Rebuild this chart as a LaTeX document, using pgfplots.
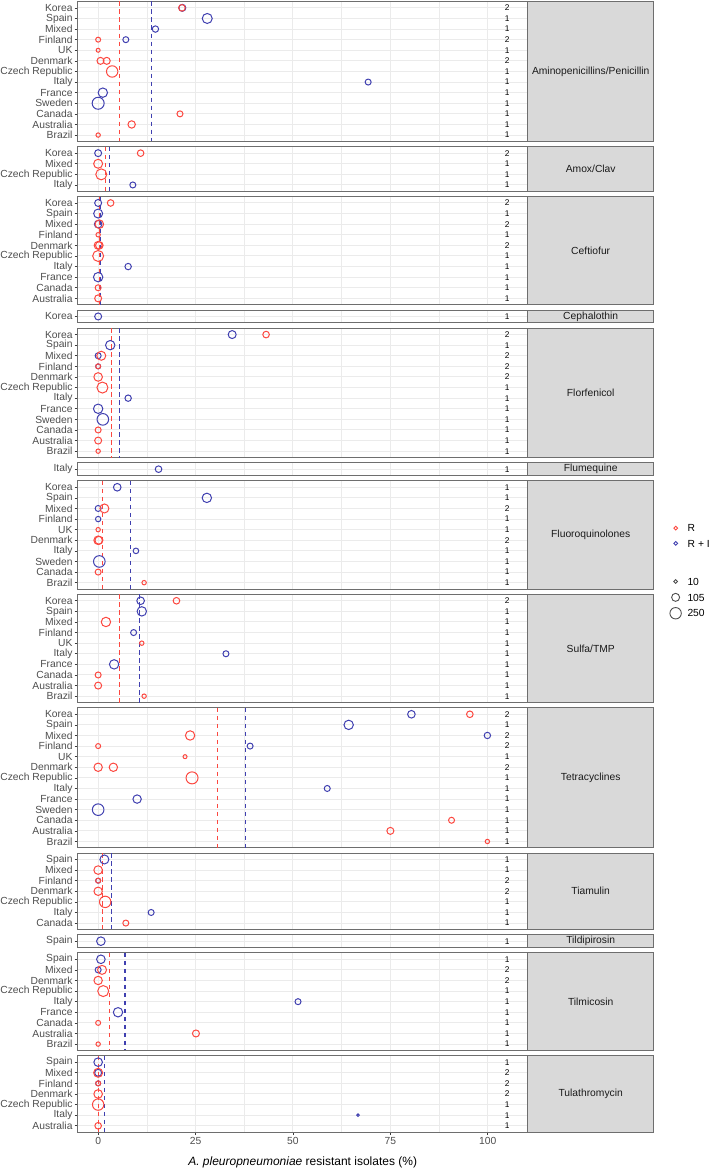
\documentclass[border=0pt]{standalone}
\usepackage{fontspec}
\setmainfont{Liberation Sans}
\usepackage{pgfplots}
\pgfplotsset{compat=1.18}
\definecolor{Rc}{RGB}{252,72,64}
\definecolor{Bc}{RGB}{64,64,176}
\definecolor{gridc}{RGB}{235,235,235}
\definecolor{bordc}{RGB}{110,110,110}
\definecolor{tickc}{RGB}{60,60,60}
\definecolor{labc}{RGB}{77,77,77}
\definecolor{stripc}{RGB}{217,217,217}
\definecolor{stript}{RGB}{26,26,26}
\definecolor{sizec}{RGB}{77,77,77}
\newcommand\axfont{\fontsize{10.3}{12}\selectfont}
\newcommand\cntfont{\fontsize{8.3}{10}\selectfont}
\pgfplotsset{
 panel/.style={anchor=north west, scale only axis, width=450pt,
   xmin=-5.25, xmax=110.25, y dir=reverse, clip=false,
   axis line style={draw=bordc, line width=0.9pt},
   xtick={0,25,50,75,100}, minor xtick={12.5,37.5,62.5,87.5},
   xticklabels={}, grid=both,
   major grid style={draw=gridc, line width=1pt},
   minor grid style={draw=gridc, line width=0.55pt},
   tick align=outside, major tick length=3pt, minor tick length=0pt,
   tick style={draw=tickc, line width=0.7pt},
   xtick style={draw=none},
   tick pos=left,
   yticklabel style={font=\axfont, text=labc, inner sep=0pt, xshift=-2pt},
 },
 rp/.style={scatter, only marks, mark=o, line width=1.0pt, point meta=\thisrow{r},
   scatter/use mapped color={draw=Rc},
   visualization depends on={\thisrow{r}\as\rr},
   scatter/@pre marker code/.append style={/tikz/mark size=\rr pt}},
 bp/.style={scatter, only marks, mark=o, line width=1.0pt, point meta=\thisrow{r},
   scatter/use mapped color={draw=Bc},
   visualization depends on={\thisrow{r}\as\rr},
   scatter/@pre marker code/.append style={/tikz/mark size=\rr pt}},
 rl/.style={color=Rc, solid, line width=1.1pt, dash pattern=on 4.5pt off 3.5pt, mark=none, forget plot},
 bl/.style={color=Bc, solid, line width=1.1pt, dash pattern=on 4.5pt off 3.5pt, mark=none, forget plot},
 cnt/.style={draw=none, mark=none, nodes near coords, point meta=explicit symbolic,
   every node near coord/.append style={anchor=center, font=\cntfont, text=black, inner sep=0pt}},
}
\tikzset{strip/.style={anchor=north west, draw=bordc, line width=0.9pt, fill=stripc,
   minimum width=126pt, inner sep=0pt, outer sep=0pt, font=\axfont, text=stript}}
\begin{document}
\begin{tikzpicture}
\useasboundingbox (0,0) rectangle (709pt,-1169pt);
% ---------- 1 Aminopenicillins/Penicillin
\begin{axis}[panel, name=p1, at={(77.7pt,-1.5pt)}, height=139.92pt, ymin=0.4, ymax=13.6,
  ytick={1,...,13}, yticklabels={Korea,Spain,Mixed,Finland,UK,Denmark,Czech Republic,Italy,France,Sweden,Canada,Australia,Brazil}]
\addplot[bp] table[row sep=\\]{x y r\\ 21.6 1 3.5\\ 28.0 2 5.0\\ 14.7 3 3.2\\ 7.1 4 3.0\\ 69.3 8 3.0\\ 1.2 9 4.7\\ 0 10 6.0\\};
\addplot[rp] table[row sep=\\]{x y r\\ 21.5 1 3.3\\ 0 4 2.5\\ 0 5 2.0\\ 0.6 6 3.5\\ 2.2 6 3.5\\ 3.6 7 5.7\\ 21.0 11 3.0\\ 8.6 12 3.7\\ 0 13 2.2\\};
\addplot[rl] coordinates {(5.4,0.4) (5.4,13.6)};
\addplot[bl] coordinates {(13.7,0.4) (13.7,13.6)};
\addplot[cnt] table[row sep=\\, x expr=105, y=y, meta=c]{y c\\ 1 2\\ 2 1\\ 3 1\\ 4 2\\ 5 1\\ 6 2\\ 7 1\\ 8 1\\ 9 1\\ 10 1\\ 11 1\\ 12 1\\ 13 1\\};
\end{axis}
\node[strip, minimum height=139.92pt] at (p1.north east) {Aminopenicillins/Penicillin};
% ---------- 2 Amox/Clav
\begin{axis}[panel, name=p2, at={(77.7pt,-146.8pt)}, height=44.52pt, ymin=0.4, ymax=4.6,
  ytick={1,...,4}, yticklabels={Korea,Mixed,Czech Republic,Italy}]
\addplot[bp] table[row sep=\\]{x y r\\ 0 1 3.5\\ 8.9 4 3.0\\};
\addplot[rp] table[row sep=\\]{x y r\\ 10.9 1 3.3\\ 0 2 4.5\\ 0.8 3 5.5\\};
\addplot[rl] coordinates {(2.0,0.4) (2.0,4.6)};
\addplot[bl] coordinates {(2.9,0.4) (2.9,4.6)};
\addplot[cnt] table[row sep=\\, x expr=105, y=y, meta=c]{y c\\ 1 2\\ 2 1\\ 3 1\\ 4 1\\};
\end{axis}
\node[strip, minimum height=44.52pt] at (p2.north east) {Amox/Clav};
% ---------- 3 Ceftiofur
\begin{axis}[panel, name=p3, at={(77.7pt,-196.6pt)}, height=108.12pt, ymin=0.4, ymax=10.6,
  ytick={1,...,10}, yticklabels={Korea,Spain,Mixed,Finland,Denmark,Czech Republic,Italy,France,Canada,Australia}]
\addplot[bp] table[row sep=\\]{x y r\\ 0 1 3.5\\ 0 2 4.5\\ 0 3 3.8\\ 7.7 7 3.2\\ 0 8 4.7\\};
\addplot[rp] table[row sep=\\]{x y r\\ 3.2 1 3.3\\ 0.3 3 4.3\\ 0 4 2.2\\ 0 5 4.0\\ 0.3 5 3.8\\ 0 6 5.5\\ 0 9 3.0\\ 0 10 3.5\\};
\addplot[rl] coordinates {(0.3,0.4) (0.3,10.6)};
\addplot[bl] coordinates {(0.6,0.4) (0.6,10.6)};
\addplot[cnt] table[row sep=\\, x expr=105, y=y, meta=c]{y c\\ 1 2\\ 2 1\\ 3 2\\ 4 1\\ 5 2\\ 6 1\\ 7 1\\ 8 1\\ 9 1\\ 10 1\\};
\end{axis}
\node[strip, minimum height=108.12pt] at (p3.north east) {Ceftiofur};
% ---------- 4 Cephalothin
\begin{axis}[panel, name=p4, at={(77.7pt,-310.1pt)}, height=12.72pt, ymin=0.4, ymax=1.6,
  ytick={1}, yticklabels={Korea}]
\addplot[bp] table[row sep=\\]{x y r\\ 0 1 3.5\\};
\addplot[cnt] table[row sep=\\, x expr=105, y=y, meta=c]{y c\\ 1 1\\};
\end{axis}
\node[strip, minimum height=12.72pt] at (p4.north east) {Cephalothin};
% ---------- 5 Florfenicol
\begin{axis}[panel, name=p5, at={(77.7pt,-328.2pt)}, height=129.32pt, ymin=0.4, ymax=12.6,
  ytick={1,...,12}, yticklabels={Korea,Spain,Mixed,Finland,Denmark,Czech Republic,Italy,France,Sweden,Canada,Australia,Brazil}]
\addplot[bp] table[row sep=\\]{x y r\\ 34.4 1 4.0\\ 3.1 2 4.7\\ 0 3 3.0\\ 0 4 2.5\\ 7.7 7 3.2\\ 0 8 4.7\\ 1.2 9 5.8\\};
\addplot[rp] table[row sep=\\]{x y r\\ 43.1 1 3.3\\ 0.8 3 4.5\\ 0 4 2.5\\ 0 5 4.3\\ 1.1 6 5.5\\ 0 10 3.0\\ 0 11 3.5\\ 0 12 2.2\\};
\addplot[rl] coordinates {(3.5,0.4) (3.5,12.6)};
\addplot[bl] coordinates {(5.5,0.4) (5.5,12.6)};
\addplot[cnt] table[row sep=\\, x expr=105, y=y, meta=c]{y c\\ 1 2\\ 2 1\\ 3 2\\ 4 2\\ 5 2\\ 6 1\\ 7 1\\ 8 1\\ 9 1\\ 10 1\\ 11 1\\ 12 1\\};
\end{axis}
\node[strip, minimum height=129.32pt] at (p5.north east) {Florfenicol};
% ---------- 6 Flumequine
\begin{axis}[panel, name=p6, at={(77.7pt,-462.8pt)}, height=12.72pt, ymin=0.4, ymax=1.6,
  ytick={1}, yticklabels={Italy}]
\addplot[bp] table[row sep=\\]{x y r\\ 15.5 1 3.3\\};
\addplot[cnt] table[row sep=\\, x expr=105, y=y, meta=c]{y c\\ 1 1\\};
\end{axis}
\node[strip, minimum height=12.72pt] at (p6.north east) {Flumequine};
% ---------- 7 Fluoroquinolones
\begin{axis}[panel, name=p7, at={(77.7pt,-480.9pt)}, height=108.12pt, ymin=0.4, ymax=10.6,
  ytick={1,...,10}, yticklabels={Korea,Spain,Mixed,Finland,UK,Denmark,Italy,Sweden,Canada,Brazil}]
\addplot[bp] table[row sep=\\]{x y r\\ 4.9 1 3.8\\ 27.9 2 4.7\\ 0 3 3.0\\ 0 4 2.7\\ 9.7 7 2.8\\ 0.3 8 5.8\\};
\addplot[rp] table[row sep=\\]{x y r\\ 1.6 3 4.5\\ 0 5 2.2\\ 0 6 4.3\\ 0.2 6 4.0\\ 0 9 3.0\\ 11.8 10 2.2\\};
\addplot[rl] coordinates {(1.0,0.4) (1.0,10.6)};
\addplot[bl] coordinates {(8.3,0.4) (8.3,10.6)};
\addplot[cnt] table[row sep=\\, x expr=105, y=y, meta=c]{y c\\ 1 1\\ 2 1\\ 3 2\\ 4 1\\ 5 1\\ 6 2\\ 7 1\\ 8 1\\ 9 1\\ 10 1\\};
\end{axis}
\node[strip, minimum height=108.12pt] at (p7.north east) {Fluoroquinolones};
% ---------- 8 Sulfa/TMP
\begin{axis}[panel, name=p8, at={(77.7pt,-594.4pt)}, height=108.12pt, ymin=0.4, ymax=10.6,
  ytick={1,...,10}, yticklabels={Korea,Spain,Mixed,Finland,UK,Italy,France,Canada,Australia,Brazil}]
\addplot[bp] table[row sep=\\]{x y r\\ 10.9 1 3.8\\ 11.2 2 4.7\\ 9.1 4 3.0\\ 32.8 6 3.0\\ 4.1 7 4.7\\};
\addplot[rp] table[row sep=\\]{x y r\\ 20.1 1 3.3\\ 2.0 3 4.7\\ 11.2 5 2.2\\ 0 8 3.0\\ 0 9 3.5\\ 11.8 10 2.2\\};
\addplot[rl] coordinates {(5.5,0.4) (5.5,10.6)};
\addplot[bl] coordinates {(10.6,0.4) (10.6,10.6)};
\addplot[cnt] table[row sep=\\, x expr=105, y=y, meta=c]{y c\\ 1 2\\ 2 1\\ 3 1\\ 4 1\\ 5 1\\ 6 1\\ 7 1\\ 8 1\\ 9 1\\ 10 1\\};
\end{axis}
\node[strip, minimum height=108.12pt] at (p8.north east) {Sulfa/TMP};
% ---------- 9 Tetracyclines
\begin{axis}[panel, name=p9, at={(77.7pt,-707.9pt)}, height=139.92pt, ymin=0.4, ymax=13.6,
  ytick={1,...,13}, yticklabels={Korea,Spain,Mixed,Finland,UK,Denmark,Czech Republic,Italy,France,Sweden,Canada,Australia,Brazil}]
\addplot[bp] table[row sep=\\]{x y r\\ 80.4 1 3.8\\ 64.3 2 4.7\\ 99.9 3 3.2\\ 39.0 4 3.0\\ 58.8 8 3.0\\ 10.0 9 4.2\\ 0 10 5.8\\};
\addplot[rp] table[row sep=\\]{x y r\\ 95.4 1 3.3\\ 23.6 3 4.7\\ 0 4 2.5\\ 22.3 5 2.0\\ 0 6 4.2\\ 3.9 6 4.2\\ 24.1 7 6.0\\ 90.7 11 3.0\\ 75.0 12 3.5\\ 99.9 13 2.2\\};
\addplot[rl] coordinates {(30.7,0.4) (30.7,13.6)};
\addplot[bl] coordinates {(37.9,0.4) (37.9,13.6)};
\addplot[cnt] table[row sep=\\, x expr=105, y=y, meta=c]{y c\\ 1 2\\ 2 1\\ 3 2\\ 4 2\\ 5 1\\ 6 2\\ 7 1\\ 8 1\\ 9 1\\ 10 1\\ 11 1\\ 12 1\\ 13 1\\};
\end{axis}
\node[strip, minimum height=139.92pt] at (p9.north east) {Tetracyclines};
% ---------- 10 Tiamulin
\begin{axis}[panel, name=p10, at={(77.7pt,-853.1pt)}, height=76.32pt, ymin=0.4, ymax=7.6,
  ytick={1,...,7}, yticklabels={Spain,Mixed,Finland,Denmark,Czech Republic,Italy,Canada}]
\addplot[bp] table[row sep=\\]{x y r\\ 1.6 1 4.5\\ 0 3 2.5\\ 13.6 6 3.0\\};
\addplot[rp] table[row sep=\\]{x y r\\ 0 2 4.3\\ 0 3 2.5\\ 0 4 4.2\\ 1.8 5 5.7\\ 7.1 7 3.0\\};
\addplot[rl] coordinates {(1.1,0.4) (1.1,7.6)};
\addplot[bl] coordinates {(3.5,0.4) (3.5,7.6)};
\addplot[cnt] table[row sep=\\, x expr=105, y=y, meta=c]{y c\\ 1 1\\ 2 1\\ 3 2\\ 4 2\\ 5 1\\ 6 1\\ 7 1\\};
\end{axis}
\node[strip, minimum height=76.32pt] at (p10.north east) {Tiamulin};
% ---------- 11 Tildipirosin
\begin{axis}[panel, name=p11, at={(77.7pt,-934.8pt)}, height=12.72pt, ymin=0.4, ymax=1.6,
  ytick={1}, yticklabels={Spain}]
\addplot[bp] table[row sep=\\]{x y r\\ 0.7 1 4.3\\};
\addplot[cnt] table[row sep=\\, x expr=105, y=y, meta=c]{y c\\ 1 1\\};
\end{axis}
\node[strip, minimum height=12.72pt] at (p11.north east) {Tildipirosin};
% ---------- 12 Tilmicosin
\begin{axis}[panel, name=p12, at={(77.7pt,-952.9pt)}, height=97.52pt, ymin=0.4, ymax=9.6,
  ytick={1,...,9}, yticklabels={Spain,Mixed,Denmark,Czech Republic,Italy,France,Canada,Australia,Brazil}]
\addplot[bp] table[row sep=\\]{x y r\\ 0.7 1 4.3\\ 0 2 3.0\\ 51.3 5 3.0\\ 5.1 6 4.7\\};
\addplot[rp] table[row sep=\\]{x y r\\ 1.0 2 4.5\\ 0 3 4.2\\ 1.3 4 5.5\\ 0 7 2.5\\ 25.1 8 3.5\\ 0 9 2.2\\};
\addplot[rl] coordinates {(2.9,0.4) (2.9,9.6)};
\addplot[bl] coordinates {(6.9,0.4) (6.9,9.6)};
\addplot[cnt] table[row sep=\\, x expr=105, y=y, meta=c]{y c\\ 1 1\\ 2 2\\ 3 2\\ 4 1\\ 5 1\\ 6 1\\ 7 1\\ 8 1\\ 9 1\\};
\end{axis}
\node[strip, minimum height=97.52pt] at (p12.north east) {Tilmicosin};
% ---------- 13 Tulathromycin
\begin{axis}[panel, name=p13, at={(77.7pt,-1055.8pt)}, height=76.32pt, ymin=0.4, ymax=7.6,
  ytick={1,...,7}, yticklabels={Spain,Mixed,Finland,Denmark,Czech Republic,Italy,Australia},
  xticklabels={0,25,50,75,100}, xtick style={draw=tickc, line width=0.7pt},
  xticklabel style={font=\axfont, text=labc, inner sep=0pt, yshift=-2pt},
  xlabel={\textit{A. pleuropneumoniae} resistant isolates (\%)},
  xlabel style={font=\fontsize{12}{14}\selectfont, text=black, at={(axis description cs:0.5,0)}, anchor=center, yshift=-30pt}]
\addplot[bp] table[row sep=\\]{x y r\\ 0 1 4.3\\ 0 2 3.5\\ 0 3 2.5\\ 66.7 6 1.3\\};
\addplot[rp] table[row sep=\\]{x y r\\ 0 2 4.5\\ 0 3 2.5\\ 0 4 4.3\\ 0 5 5.7\\ 0 7 3.3\\};
\addplot[rl] coordinates {(0,0.4) (0,7.6)};
\addplot[bl] coordinates {(1.6,0.4) (1.6,7.6)};
\addplot[cnt] table[row sep=\\, x expr=105, y=y, meta=c]{y c\\ 1 1\\ 2 2\\ 3 2\\ 4 2\\ 5 1\\ 6 1\\ 7 1\\};
\end{axis}
\node[strip, minimum height=76.32pt] at (p13.north east) {Tulathromycin};
% ---------- legends
\begin{axis}[at={(0pt,0pt)}, anchor=north west, scale only axis, width=709pt, height=1169pt,
  hide axis, xmin=0, xmax=1, ymin=0, ymax=1,
  legend image code/.code={\path (0pt,-6.6pt) (0pt,6.6pt); \draw[#1] plot coordinates {(0pt,0pt)};},
  legend style={draw=none, fill=none, inner sep=0pt, outer sep=0pt, at={(0.95035,0.55424)}, anchor=north west,
    row sep=1.1pt, column sep=10.1pt, font=\axfont, cells={anchor=west},
    nodes={inner sep=0pt, text height=7.5pt, text depth=0pt}}]
\addlegendimage{only marks, mark=o, mark size=1.9pt, draw=Rc, line width=0.9pt}
\addlegendentry{R}
\addlegendimage{only marks, mark=o, mark size=1.9pt, draw=Bc, line width=0.9pt}
\addlegendentry{R + I}
\end{axis}
\begin{axis}[at={(0pt,0pt)}, anchor=north west, scale only axis, width=709pt, height=1169pt,
  hide axis, xmin=0, xmax=1, ymin=0, ymax=1,
  legend image code/.code={\path (0pt,-6.6pt) (0pt,6.6pt); \draw[#1] plot coordinates {(0pt,0pt)};},
  legend style={draw=none, fill=none, inner sep=0pt, outer sep=0pt, at={(0.94485,0.50864)}, anchor=north west,
    row sep=1.8pt, column sep=6.2pt, font=\axfont, cells={anchor=west},
    nodes={inner sep=0pt, text height=7.5pt, text depth=0pt}}]
\addlegendimage{only marks, mark=o, mark size=1.9pt, draw=sizec, line width=0.9pt}
\addlegendentry{10}
\addlegendimage{only marks, mark=o, mark size=4.0pt, draw=sizec, line width=0.9pt}
\addlegendentry{105}
\addlegendimage{only marks, mark=o, mark size=5.7pt, draw=sizec, line width=0.9pt}
\addlegendentry{250}
\end{axis}
\end{tikzpicture}
\end{document}
